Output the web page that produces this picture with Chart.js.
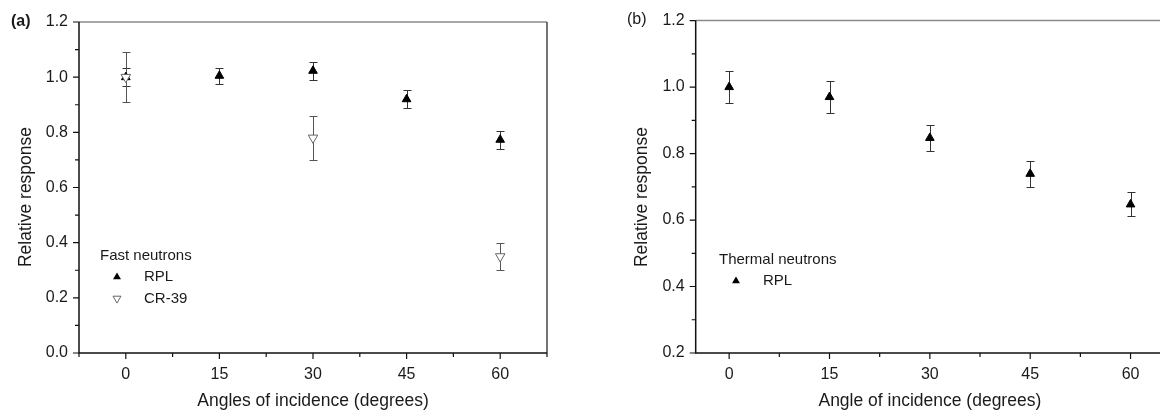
<!DOCTYPE html>
<html>
<head>
<meta charset="utf-8">
<script src="https://cdn.jsdelivr.net/npm/chart.js@4/dist/chart.umd.min.js"></script>
<style>
  html,body{margin:0;padding:0;background:#fff;overflow:hidden;width:1160px;height:410px;}
  canvas{position:absolute;top:0;}
  #chartA{left:0;}
  #chartB{left:580px;}
</style>
</head>
<body>
<canvas id="chartA" width="560" height="410"></canvas>
<canvas id="chartB" width="590" height="410"></canvas>
<script>
// DATA
const angles=[0,15,30,45,60];
const fastRpl=[1.0,1.005,1.023,0.92,0.773];
const fastRplErr=[0.033,0.028,0.033,0.032,0.032];
const cr39Angles=[0,30,60];
const cr39=[1.0,0.78,0.35];
const cr39Err=[0.09,0.08,0.05];
const thermalRpl=[1.0,0.97,0.847,0.739,0.647];
const thermalRplErr=[0.048,0.047,0.04,0.04,0.036];
const xTickLabels=[0,15,30,45,60];
const yTicksA=[0,0.2,0.4,0.6,0.8,1.0,1.2];
const yTicksB=[0.2,0.4,0.6,0.8,1.0,1.2];

const FONT="'Liberation Sans', Arial, sans-serif";
const TXT='#1a1a1a';

function pts(xs,ys){return xs.map((x,i)=>({x:x,y:ys[i]}));}

// error bars, drawn under the markers
const errorBars={
  id:'errorBars',
  beforeDatasetsDraw(chart){
    const ctx=chart.ctx,xs=chart.scales.x,ys=chart.scales.y;
    chart.data.datasets.forEach(ds=>{
      if(!ds.errors)return;
      ctx.save();
      ctx.strokeStyle=ds.errColor||'#333';
      ctx.lineWidth=1;
      ds.data.forEach((p,i)=>{
        const e=ds.errors[i];
        const px=Math.round(xs.getPixelForValue(p.x))+0.5;
        const t=Math.round(ys.getPixelForValue(p.y+e))+0.5;
        const b=Math.round(ys.getPixelForValue(p.y-e))+0.5;
        ctx.beginPath();
        ctx.moveTo(px,t);ctx.lineTo(px,b);
        ctx.moveTo(px-4,t);ctx.lineTo(px+4,t);
        ctx.moveTo(px-4,b);ctx.lineTo(px+4,b);
        ctx.stroke();
      });
      ctx.restore();
    });
  }
};

function tri(ctx,x,y,r,down,fill,stroke){
  const s=down?-1:1;
  ctx.beginPath();
  ctx.moveTo(x,y-s*r);
  ctx.lineTo(x+r*0.866,y+s*r*0.5);
  ctx.lineTo(x-r*0.866,y+s*r*0.5);
  ctx.closePath();
  if(fill){ctx.fillStyle=fill;ctx.fill();}
  if(stroke){ctx.strokeStyle=stroke;ctx.lineWidth=1;ctx.stroke();}
}

// frame, ticks, titles, legend
const decor={
  id:'decor',
  afterDraw(chart,args,o){
    const ctx=chart.ctx,a=chart.chartArea,xs=chart.scales.x,ys=chart.scales.y;
    ctx.save();
    // frame
    ctx.lineWidth=1.5;
    ctx.strokeStyle='#8a8a8a';
    ctx.beginPath();ctx.moveTo(a.left,a.top);ctx.lineTo(a.right,a.top);ctx.stroke();
    if(o.rightBorder){
      ctx.strokeStyle='#444';
      ctx.beginPath();ctx.moveTo(a.right,a.top);ctx.lineTo(a.right,a.bottom);ctx.stroke();
    }
    ctx.strokeStyle='#111';
    ctx.beginPath();ctx.moveTo(a.left,a.top);ctx.lineTo(a.left,a.bottom);ctx.lineTo(a.right,a.bottom);ctx.stroke();
    // ticks
    ctx.lineWidth=1.2;
    ctx.beginPath();
    for(let v=Math.ceil(xs.min/7.5)*7.5;v<=xs.max+1e-6;v+=7.5){
      const px=xs.getPixelForValue(v),len=(Math.abs(v%15)<1e-6)?6:4;
      ctx.moveTo(px,a.bottom);ctx.lineTo(px,a.bottom+len);
    }
    for(let k=Math.round(ys.min*10);k<=Math.round(ys.max*10);k++){
      const py=ys.getPixelForValue(k/10),len=(k%2===0)?6:4;
      ctx.moveTo(a.left,py);ctx.lineTo(a.left-len,py);
    }
    ctx.stroke();
    // axis titles
    ctx.fillStyle=TXT;
    ctx.font='17.5px '+FONT;
    ctx.textAlign='center';ctx.textBaseline='middle';
    ctx.fillText(o.xTitle,(a.left+a.right)/2,401);
    ctx.save();
    ctx.translate(o.yTitleX,197);ctx.rotate(-Math.PI/2);
    ctx.fillText('Relative response',0,0);
    ctx.restore();
    // panel label
    ctx.textAlign='left';
    ctx.font=(o.bold?'bold ':'')+'16px '+FONT;
    ctx.fillText(o.panel,o.panelX,o.panelY);
    // legend
    ctx.font='15px '+FONT;
    ctx.fillText(o.legendTitle,o.legX,o.legY);
    o.legend.forEach((it,i)=>{
      const y=o.legY+21+i*21.5;
      tri(ctx,o.legX+17,y,4.6,it.down,it.fill,it.stroke);
      ctx.fillStyle=TXT;
      ctx.fillText(it.text,o.legX+44,y);
    });
    ctx.restore();
  }
};

function makeOptions(ymin,yTicks,xmin,xmax,pad,deco){
  return {
    responsive:false,
    animation:false,
    layout:{padding:pad},
    plugins:{legend:{display:false},tooltip:{enabled:false},decor:deco},
    scales:{
      x:{type:'linear',min:xmin,max:xmax,
        afterBuildTicks:s=>{s.ticks=xTickLabels.map(v=>({value:v}));},
        afterFit:s=>{s.height=57;},
        grid:{display:false,drawTicks:false},border:{display:false},
        ticks:{padding:12,color:TXT,font:{family:FONT,size:16},callback:v=>v}},
      y:{type:'linear',min:ymin,max:1.2,
        afterBuildTicks:s=>{s.ticks=yTicks.map(v=>({value:v}));},
        afterFit:s=>{s.width=deco.axisLeft;},
        grid:{display:false,drawTicks:false},border:{display:false},
        ticks:{padding:11,color:TXT,font:{family:FONT,size:16},callback:v=>v.toFixed(1)}}
    }
  };
}

new Chart(document.getElementById('chartA'),{
  type:'scatter',
  data:{datasets:[
    {label:'RPL',order:1,data:pts(angles,fastRpl),errors:fastRplErr,errColor:'#333',
     pointStyle:'triangle',pointRadius:5,backgroundColor:'#000',borderColor:'#000',borderWidth:1},
    {label:'CR-39',order:0,data:pts(cr39Angles,cr39),errors:cr39Err,errColor:'#555',
     pointStyle:'triangle',rotation:180,pointRadius:5.5,backgroundColor:'#fff',borderColor:'#666',borderWidth:1}
  ]},
  options:makeOptions(0,yTicksA,-7.5,67.5,{top:22,right:13,left:0,bottom:0},
    {axisLeft:79,rightBorder:true,xTitle:'Angles of incidence (degrees)',yTitleX:26,
     panel:'(a)',bold:true,panelX:11,panelY:22,
     legendTitle:'Fast neutrons',legX:100,legY:256,
     legend:[{text:'RPL',fill:'#000',down:false},{text:'CR-39',stroke:'#666',fill:'#fff',down:true}]}),
  plugins:[errorBars,decor]
});

new Chart(document.getElementById('chartB'),{
  type:'scatter',
  data:{datasets:[
    {label:'RPL',data:pts(angles,thermalRpl),errors:thermalRplErr,errColor:'#333',
     pointStyle:'triangle',pointRadius:5,backgroundColor:'#000',borderColor:'#000',borderWidth:1}
  ]},
  options:makeOptions(0.2,yTicksB,-5,65,{top:20,right:5,left:0,bottom:0},
    {axisLeft:115.7,rightBorder:false,xTitle:'Angle of incidence (degrees)',yTitleX:62,
     panel:'(b)',bold:false,panelX:47,panelY:20,
     legendTitle:'Thermal neutrons',legX:139,legY:260,
     legend:[{text:'RPL',fill:'#000',down:false}]}),
  plugins:[errorBars,decor]
});
</script>
</body>
</html>
